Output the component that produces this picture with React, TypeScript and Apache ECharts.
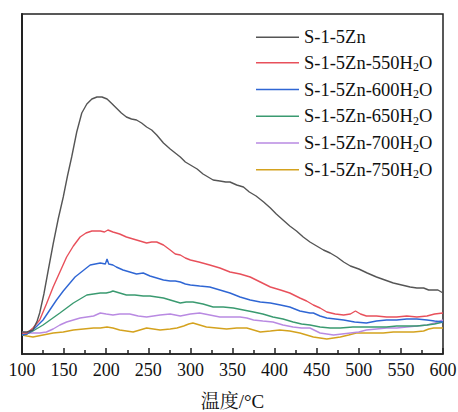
import React, { useEffect, useRef } from "react";
import * as echarts from "echarts";

// Temperature (°C) vs. signal intensity (arbitrary units) for each sample
const black: [number, number][] = [[100,22],[106,22],[113,24],[118,33],[121,41],[126,60],[131,83],[137,110],[143,135],[149,157],[154,178],[159,197],[165,222],[171,241],[177,250],[183,255],[189,257],[195,257],[201,255],[206,251],[212,246],[218,241],[224,237],[230,235],[236,234],[242,231],[248,227],[254,224],[260,219],[268,211],[276,205],[282,201],[288,197],[294,192],[300,189],[308,185],[315,180],[327,174],[335,173],[342,172],[347,172],[355,169],[363,167],[370,162],[378,158],[387,152],[395,146],[402,140],[410,134],[418,128],[426,123],[434,117],[442,112],[450,108],[458,104],[466,101],[474,97],[482,92],[490,88],[500,85],[510,81],[521,77],[531,74],[541,71],[551,69],[561,67],[569,66],[577,66],[583,64],[588,64],[594,64],[600,61]];
const red: [number, number][] = [[100,21],[106,21],[113,26],[121,34],[129,50],[137,67],[145,82],[153,97],[161,108],[169,117],[176,121],[183,123],[188,123],[193,123],[198,122],[202,124],[208,122],[216,120],[224,117],[232,115],[240,113],[248,111],[254,112],[260,112],[268,109],[276,104],[282,100],[288,99],[294,96],[300,94],[310,92],[323,89],[335,86],[347,82],[359,80],[371,77],[383,72],[395,67],[407,64],[418,61],[430,56],[438,53],[446,49],[454,46],[462,42],[472,40],[482,39],[490,40],[496,43],[502,40],[509,38],[521,38],[533,37],[545,37],[557,38],[569,37],[581,38],[590,40],[600,41]];
const blue: [number, number][] = [[100,19],[106,20],[113,24],[119,29],[125,34],[133,44],[141,54],[149,63],[157,71],[163,77],[169,81],[175,85],[181,89],[187,90],[193,91],[199,90],[201,95],[203,90],[208,89],[212,87],[220,84],[228,82],[236,80],[244,81],[252,78],[260,76],[268,74],[276,73],[282,73],[288,72],[294,70],[300,69],[311,68],[323,67],[335,64],[347,61],[359,57],[371,54],[383,52],[395,51],[407,49],[418,47],[430,43],[442,41],[446,41],[454,38],[462,36],[472,35],[482,34],[495,32],[509,31],[521,33],[533,34],[545,34],[557,35],[569,35],[581,34],[590,33],[600,32]];
const green: [number, number][] = [[100,19],[106,20],[113,23],[119,26],[125,29],[135,35],[145,41],[153,46],[161,51],[169,55],[177,59],[185,60],[193,61],[200,61],[205,62],[208,63],[216,61],[224,59],[234,59],[244,58],[252,58],[260,57],[268,56],[276,54],[288,51],[295,52],[303,52],[315,50],[327,47],[339,47],[351,46],[363,44],[375,42],[386,40],[398,37],[410,35],[422,32],[432,30],[442,29],[454,27],[466,26],[478,26],[493,27],[509,27],[521,27],[533,27],[545,28],[557,28],[569,28],[581,29],[590,30],[600,32]];
const purple: [number, number][] = [[100,22],[106,21],[113,21],[121,21],[129,22],[137,25],[145,29],[153,32],[161,34],[169,36],[177,37],[185,38],[193,41],[200,40],[208,39],[216,40],[228,40],[238,38],[248,37],[256,38],[264,39],[276,40],[288,38],[300,40],[311,41],[323,39],[335,37],[347,37],[359,37],[367,36],[375,34],[386,33],[398,32],[410,29],[422,27],[432,26],[442,26],[454,21],[462,20],[470,19],[480,20],[490,21],[500,22],[509,24],[521,25],[533,26],[545,26],[557,27],[569,28],[581,29],[590,31],[600,34]];
const yellow: [number, number][] = [[100,19],[106,18],[113,17],[125,19],[137,21],[149,22],[161,24],[173,25],[185,26],[193,26],[201,27],[208,26],[216,24],[224,23],[232,22],[240,24],[248,26],[256,25],[264,24],[276,25],[284,26],[292,28],[298,30],[303,31],[311,29],[319,27],[331,26],[343,25],[355,26],[367,26],[375,24],[383,22],[395,23],[406,24],[418,23],[430,21],[438,19],[446,17],[454,16],[462,15],[470,16],[478,17],[488,19],[497,21],[507,21],[517,21],[529,21],[541,22],[553,22],[565,22],[577,23],[583,25],[589,26],[600,26]];

const seriesNames = [
  "S-1-5Zn",
  "S-1-5Zn-550H2O",
  "S-1-5Zn-600H2O",
  "S-1-5Zn-650H2O",
  "S-1-5Zn-700H2O",
  "S-1-5Zn-750H2O",
];
const seriesData = [black, red, blue, green, purple, yellow];
const seriesColors = ["#555555", "#e8505b", "#2f66d4", "#3a9a70", "#b98ae2", "#d4a21e"];

const xMin = 100;
const xMax = 600;
const xStep = 50;
const xName = "温度/°C";

const SERIF = "'Liberation Serif', 'Times New Roman', 'Noto Serif CJK SC', 'Noto Sans CJK SC', serif";

// Render "H2O" with a lowered, smaller 2
function legendLabel(name: string): string {
  const idx = name.indexOf("H2O");
  if (idx < 0) return `{n|${name}}`;
  return `{n|${name.slice(0, idx)}H}{s|2}{n|O}`;
}

export default function App() {
  const ref = useRef<HTMLDivElement>(null);

  useEffect(() => {
    if (!ref.current) return;
    const chart = echarts.init(ref.current, null, { renderer: "svg" });
    chart.setOption({
      animation: false,
      backgroundColor: "#ffffff",
      grid: {
        left: 22,
        right: 15,
        top: 14,
        bottom: 58,
        outerBoundsMode: "none",
        containLabel: false,
        show: true,
        borderColor: "#222",
        borderWidth: 1.5,
        backgroundColor: "transparent",
      },
      legend: {
        orient: "vertical",
        left: 251,
        top: 23,
        itemWidth: 43,
        itemHeight: 1.6,
        itemGap: 7,
        icon: "rect",
        data: seriesNames,
        formatter: (name: string) => legendLabel(name),
        textStyle: {
          rich: {
            n: { fontFamily: SERIF, fontSize: 18.5, color: "#111", lineHeight: 21 },
            s: { fontFamily: SERIF, fontSize: 12, color: "#111", lineHeight: 13, verticalAlign: "bottom" },
          },
        },
      },
      xAxis: {
        type: "value",
        min: xMin,
        max: xMax,
        interval: xStep,
        name: xName,
        nameLocation: "middle",
        nameGap: 38,
        nameTextStyle: { fontFamily: SERIF, fontSize: 19, color: "#111" },
        axisLine: { show: true, lineStyle: { color: "#222", width: 1.5 } },
        axisTick: { show: true, inside: true, length: 6, lineStyle: { color: "#222", width: 1.5 } },
        minorTick: { show: true, splitNumber: 2, length: 4, lineStyle: { color: "#222", width: 1.5 } },
        axisLabel: { fontFamily: SERIF, fontSize: 18, color: "#111", margin: 7 },
        splitLine: { show: false },
      },
      yAxis: {
        type: "value",
        min: 0,
        max: 340,
        axisLine: { show: true, lineStyle: { color: "#222", width: 2 } },
        axisTick: { show: false },
        axisLabel: { show: false },
        splitLine: { show: false },
      },
      series: seriesNames.map((name, i) => ({
        name,
        type: "line",
        data: seriesData[i],
        showSymbol: false,
        symbol: "none",
        smooth: false,
        color: seriesColors[i],
        lineStyle: { width: 1.4, color: seriesColors[i] },
        z: 10 - i,
      })),
    });
    return () => chart.dispose();
  }, []);

  return (
    <div style={{ position: "fixed", left: 0, top: 0 }}>
      <div ref={ref} style={{ width: 458, height: 412 }} />
    </div>
  );
}
